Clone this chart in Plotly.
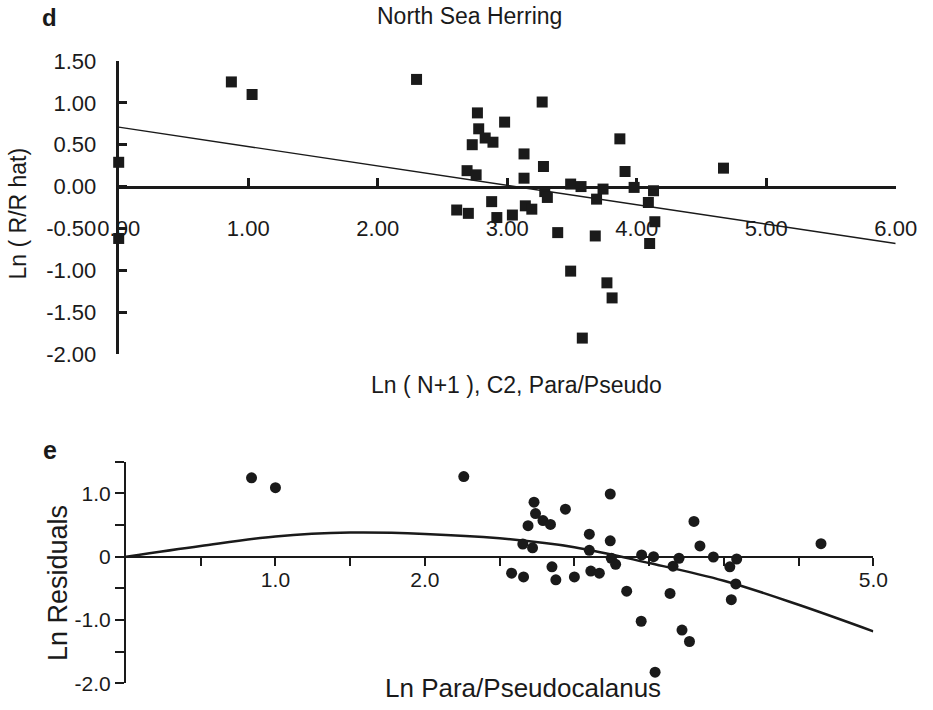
import plotly.graph_objects as go

W, H = 933, 710

# ---------------- Panel d data ----------------
d_x = [0.00, 0.00, 0.87, 1.03, 2.30, 2.69, 2.76, 2.61, 2.70, 2.77, 2.78, 2.73, 2.83, 2.89,
       2.98, 3.27, 3.13, 3.28, 3.13, 3.87, 3.91, 3.49, 3.57, 3.74, 3.98, 4.13, 3.29, 3.31,
       3.69, 4.09, 2.88, 3.14, 3.19, 2.92, 3.04, 3.39, 3.68, 4.14, 4.10, 3.49, 3.77, 3.81,
       3.58, 4.67]
d_y = [0.29, -0.62, 1.25, 1.10, 1.28, 0.19, 0.14, -0.28, -0.32, 0.88, 0.69, 0.50, 0.58, 0.53,
       0.77, 1.01, 0.39, 0.24, 0.10, 0.57, 0.18, 0.03, 0.00, -0.03, -0.01, -0.05, -0.06, -0.13,
       -0.15, -0.19, -0.18, -0.23, -0.27, -0.37, -0.34, -0.55, -0.59, -0.42, -0.68, -1.01, -1.15, -1.33,
       -1.81, 0.22]
d_fit_x = [0.0, 6.0]
d_fit_y = [0.71, -0.68]
d_xticks = [0, 1, 2, 3, 4, 5, 6]
d_xticklabels = ["0.00", "1.00", "2.00", "3.00", "4.00", "5.00", "6.00"]
d_yticks = [-2.0, -1.5, -1.0, -0.5, 0.0, 0.5, 1.0, 1.5]
d_yticklabels = ["-2.00", "-1.50", "-1.00", "-0.50", "0.00", "0.50", "1.00", "1.50"]

# ---------------- Panel e data ----------------
e_x = [-0.04, -0.03, 0.84, 1.00, 2.26, 3.24, 2.73, 2.74, 2.79, 2.84, 2.69, 2.94, 3.10, 3.24,
       3.10, 2.655, 2.72, 3.80, 3.84, 4.65, 3.45, 3.53, 3.70, 3.93, 4.086, 3.247, 3.276, 3.66,
       4.04, 4.08, 4.05, 2.58, 2.66, 2.85, 2.876, 3.00, 3.11, 3.167, 3.35, 3.64, 3.447, 3.72,
       3.77, 3.54]
e_y = [0.29, -0.60, 1.245, 1.09, 1.265, 0.99, 0.86, 0.68, 0.57, 0.51, 0.49, 0.75, 0.355, 0.25,
       0.10, 0.20, 0.14, 0.556, 0.17, 0.206, 0.027, 0.0, -0.025, -0.005, -0.037, -0.025, -0.12, -0.15,
       -0.16, -0.43, -0.68, -0.26, -0.32, -0.16, -0.365, -0.32, -0.227, -0.26, -0.545, -0.58, -1.02, -1.16,
       -1.34, -1.825]
e_curve_x = [0.0, 0.5, 1.0, 1.5, 2.0, 2.5, 3.0, 3.5, 4.0, 4.5, 5.0]
e_curve_y = [0.0, 0.17, 0.32, 0.38, 0.36, 0.29, 0.15, -0.10, -0.38, -0.76, -1.18]
e_xticks = [0.5, 1.0, 1.5, 2.0, 2.5, 3.0, 3.5, 4.0, 4.5, 5.0]
e_xticklabels = ["", "1.0", "", "2.0", "", "", "", "", "", "5.0"]
e_yticks = [-2.0, -1.5, -1.0, -0.5, 0.0, 0.5, 1.0, 1.5]
e_yticklabels = ["-2.0", "", "-1.0", "", "0", "", "1.0", ""]

INK = "#1a1a1a"
FONT = "Liberation Sans"


def px(x):
    return x / W


def py(y):
    return 1 - y / H


# domains (pixel based)
d_xdom = [px(118.7), px(895.7)]
d_ydom = [py(354), py(61)]
d_yrange = [-2.0, 1.5]
d_pos = d_ydom[0] + (0 - d_yrange[0]) / (d_yrange[1] - d_yrange[0]) * (d_ydom[1] - d_ydom[0])

e_xdom = [px(126), px(873.3)]
e_ydom = [py(683.3), py(461.7)]
e_yrange = [-2.0, 1.5]
e_pos = e_ydom[0] + (0 - e_yrange[0]) / (e_yrange[1] - e_yrange[0]) * (e_ydom[1] - e_ydom[0])

fig = go.Figure()
fig.add_trace(go.Scatter(x=d_fit_x, y=d_fit_y, mode="lines",
                         line=dict(color=INK, width=1.4), xaxis="x", yaxis="y",
                         showlegend=False))
fig.add_trace(go.Scatter(x=d_x, y=d_y, mode="markers",
                         marker=dict(symbol="square", size=11, color=INK),
                         xaxis="x", yaxis="y", cliponaxis=False, showlegend=False))
fig.add_trace(go.Scatter(x=e_curve_x, y=e_curve_y, mode="lines", line_shape="spline",
                         line=dict(color=INK, width=2.5), xaxis="x2", yaxis="y2",
                         showlegend=False))
fig.add_trace(go.Scatter(x=e_x, y=e_y, mode="markers",
                         marker=dict(symbol="circle", size=11, color=INK),
                         xaxis="x2", yaxis="y2", cliponaxis=False, showlegend=False))

common = dict(showgrid=False, zeroline=False, showline=True, linecolor=INK,
              tickcolor=INK, tickmode="array", automargin=False)

fig.update_layout(
    template="none",
    width=W, height=H,
    margin=dict(l=0, r=0, t=0, b=0, pad=0),
    paper_bgcolor="white", plot_bgcolor="white",
    font=dict(family=FONT, color=INK),
    xaxis=dict(domain=d_xdom, range=[0, 6], anchor="free", position=d_pos,
               linewidth=3, ticks="inside", ticklen=8, tickwidth=2.5,
               tickvals=d_xticks, ticktext=d_xticklabels,
               tickfont=dict(size=22, color=INK), ticklabelstandoff=21, **common),
    yaxis=dict(domain=d_ydom, range=d_yrange, anchor="x",
               linewidth=3, ticks="inside", ticklen=8, tickwidth=2.5,
               tickvals=d_yticks, ticktext=d_yticklabels,
               tickfont=dict(size=22, color=INK), ticklabelstandoff=15, **common),
    xaxis2=dict(domain=e_xdom, range=[0, 5], anchor="free", position=e_pos,
                linewidth=2, ticks="outside", ticklen=8, tickwidth=1.5,
                tickvals=e_xticks, ticktext=e_xticklabels,
                tickfont=dict(size=21, color=INK), ticklabelstandoff=-4, **common),
    yaxis2=dict(domain=e_ydom, range=e_yrange, anchor="x2",
                linewidth=2, ticks="outside", ticklen=9, tickwidth=1.5,
                tickvals=e_yticks, ticktext=e_yticklabels,
                tickfont=dict(size=21, color=INK), **common),
)

ann = [
    dict(text="<b>d</b>", x=px(49.5), y=py(18), size=24),
    dict(text="North Sea Herring", x=px(469), y=py(16), size=23),
    dict(text="Ln ( R/R hat)", x=px(17.5), y=py(214), size=23, angle=-90),
    dict(text="Ln ( N+1 ), C2, Para/Pseudo", x=px(516), y=py(385), size=23),
    dict(text="<b>e</b>", x=px(50), y=py(450), size=25),
    dict(text="Ln Residuals", x=px(58), y=py(583), size=27, angle=-90),
    dict(text="Ln Para/Pseudocalanus", x=px(523), y=py(688), size=26),
]
for a in ann:
    fig.add_annotation(text=a["text"], x=a["x"], y=a["y"], xref="paper", yref="paper",
                       xanchor="center", yanchor="middle", showarrow=False,
                       textangle=a.get("angle", 0),
                       font=dict(size=a["size"], color=INK, family=FONT))

fig.write_html("out.html")
